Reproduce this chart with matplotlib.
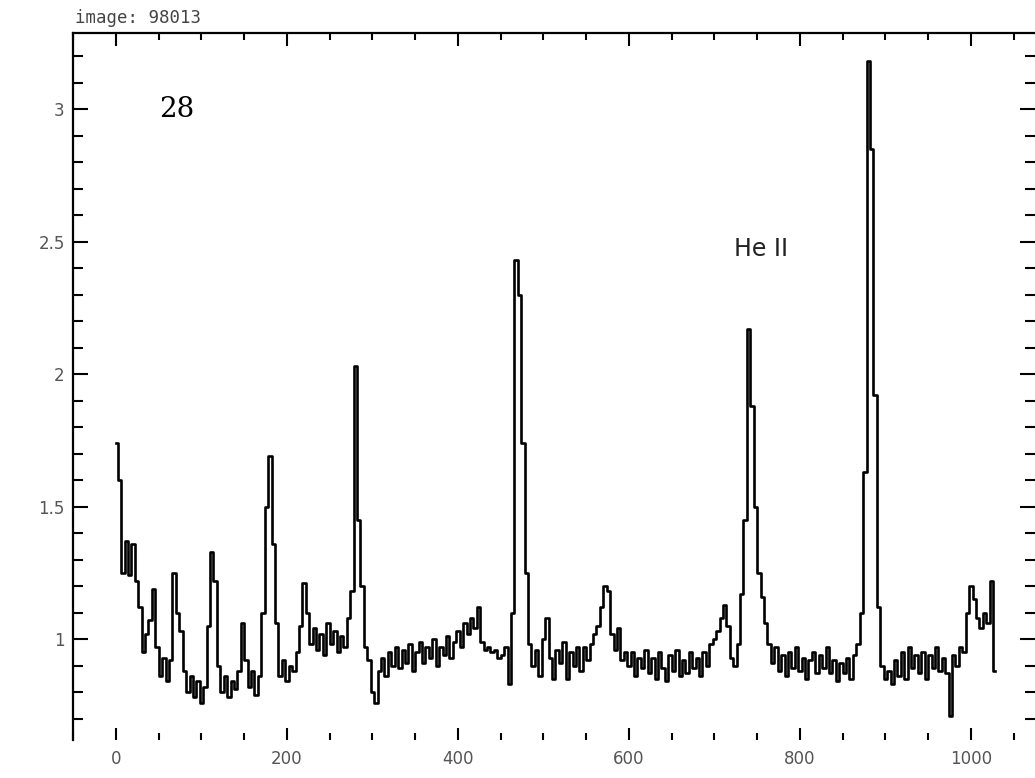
import numpy as np
import matplotlib
matplotlib.use("Agg")
import matplotlib.pyplot as plt
from matplotlib.ticker import MultipleLocator

# ---- data (flux per 4-pixel bin) ----
flux_000 = [1.74, 1.60, 1.25, 1.37, 1.24, 1.36, 1.22, 1.12, 0.95, 1.02,
            1.07, 1.19, 0.97, 0.86, 0.93, 0.84, 0.92, 1.25, 1.10, 1.03,
            0.88, 0.80, 0.86, 0.78, 0.84, 0.76, 0.82, 1.05, 1.33, 1.22,
            0.90, 0.80, 0.86, 0.78, 0.84, 0.81, 0.88, 1.06, 0.92, 0.82,
            0.88, 0.79, 0.86, 1.10, 1.50, 1.69, 1.36, 1.06, 0.86, 0.92]
flux_200 = [0.84, 0.90, 0.88, 0.95, 1.05, 1.21, 1.10, 0.98, 1.04, 0.96,
            1.02, 0.94, 1.06, 0.98, 1.03, 0.95, 1.01, 0.97, 1.08, 1.18,
            2.03, 1.45, 1.20, 0.97, 0.92, 0.80, 0.76, 0.88, 0.93, 0.86,
            0.95, 0.90, 0.97, 0.89, 0.96, 0.91, 0.98, 0.88, 0.95, 0.99,
            0.91, 0.97, 0.93, 1.00, 0.90, 0.97, 0.94, 1.01, 0.93, 0.99]
flux_400 = [1.03, 0.97, 1.06, 1.02, 1.08, 1.04, 1.12, 0.99, 0.96, 0.97,
            0.95, 0.96, 0.93, 0.94, 0.97, 0.83, 1.10, 2.43, 2.30, 1.74,
            1.25, 0.98, 0.90, 0.96, 0.86, 1.00, 1.08, 0.93, 0.85, 0.96,
            0.91, 0.99, 0.85, 0.95, 0.90, 0.97, 0.88, 0.97, 0.92, 0.98,
            1.02, 1.05, 1.12, 1.20, 1.18, 1.02, 0.96, 1.04, 0.92, 0.95]
flux_600 = [0.90, 0.95, 0.86, 0.93, 0.89, 0.96, 0.87, 0.93, 0.85, 0.95,
            0.89, 0.84, 0.94, 0.88, 0.96, 0.86, 0.92, 0.87, 0.95, 0.89,
            0.93, 0.86, 0.95, 0.90, 0.98, 1.00, 1.03, 1.08, 1.13, 1.05,
            0.93, 0.90, 0.98, 1.17, 1.45, 2.17, 1.88, 1.50, 1.25, 1.16,
            1.06, 0.98, 0.91, 0.97, 0.88, 0.94, 0.86, 0.95, 0.89, 0.97]
flux_800 = [0.88, 0.93, 0.85, 0.92, 0.95, 0.87, 0.94, 0.89, 0.97, 0.87,
            0.92, 0.84, 0.91, 0.87, 0.93, 0.85, 0.94, 0.98, 1.10, 1.63,
            3.18, 2.85, 1.92, 1.12, 0.90, 0.85, 0.88, 0.83, 0.92, 0.86,
            0.95, 0.85, 0.97, 0.89, 0.94, 0.87, 0.95, 0.85, 0.94, 0.89,
            0.97, 0.88, 0.93, 0.87, 0.71, 0.94, 0.90, 0.97, 0.95, 1.10]
flux_1000 = [1.20, 1.15, 1.08, 1.04, 1.10, 1.06, 1.22, 0.88]

bin_width = 4
x_ticks = [0, 200, 400, 600, 800, 1000]
x_ticklabels = ["0", "200", "400", "600", "800", "1000"]
y_ticks = [1, 1.5, 2, 2.5, 3]
y_ticklabels = ["1", "1.5", "2", "2.5", "3"]
title_text = "image: 98013"
panel_label = "28"
line_label = "He II"

flux = np.array(flux_000 + flux_200 + flux_400 + flux_600 + flux_800 + flux_1000)
pixel = np.arange(len(flux)) * bin_width

fig = plt.figure(figsize=(10.35, 7.78), dpi=100)
fig.patch.set_facecolor("white")
ax = fig.add_axes([73 / 1035, 1 - 740 / 778, 1 - 73 / 1035, (740 - 33) / 778])

ax.step(pixel, flux, where="mid", color="black", lw=1.9)

ax.set_xlim(-50.3, 1075)
ax.set_ylim(0.619, 3.287)

ax.spines["right"].set_visible(False)
ax.spines["bottom"].set_visible(False)
ax.spines["left"].set_linewidth(1.6)
ax.spines["top"].set_linewidth(1.6)

ax.set_xticks(x_ticks)
ax.set_xticklabels(x_ticklabels)
ax.set_yticks(y_ticks)
ax.set_yticklabels(y_ticklabels)
ax.xaxis.set_minor_locator(MultipleLocator(50))
ax.yaxis.set_minor_locator(MultipleLocator(0.1))

ax.tick_params(axis="x", which="major", direction="in", top=True, bottom=True,
               length=9, width=1.5, labelsize=12, labelcolor="#555555", pad=7)
ax.tick_params(axis="x", which="minor", direction="in", top=True, bottom=True,
               length=5, width=1.5)
ax.tick_params(axis="y", which="major", direction="in", left=True, right=True,
               length=11, width=1.5, labelsize=12, labelcolor="#555555", pad=6)
ax.tick_params(axis="y", which="minor", direction="in", left=True, right=True,
               length=7, width=1.5)

fig.text(75 / 1035, 1 - 18 / 778, title_text, fontsize=12.5, color="#444444",
         ha="left", va="center", family="DejaVu Sans Mono")
ax.text(71, 3.0, panel_label, fontsize=20, family="DejaVu Serif",
        ha="center", va="center", color="black")
ax.text(755, 2.47, line_label, fontsize=17, family="DejaVu Sans",
        ha="center", va="center", color="#222222")

fig.savefig("out.png", dpi=100, facecolor="white")
